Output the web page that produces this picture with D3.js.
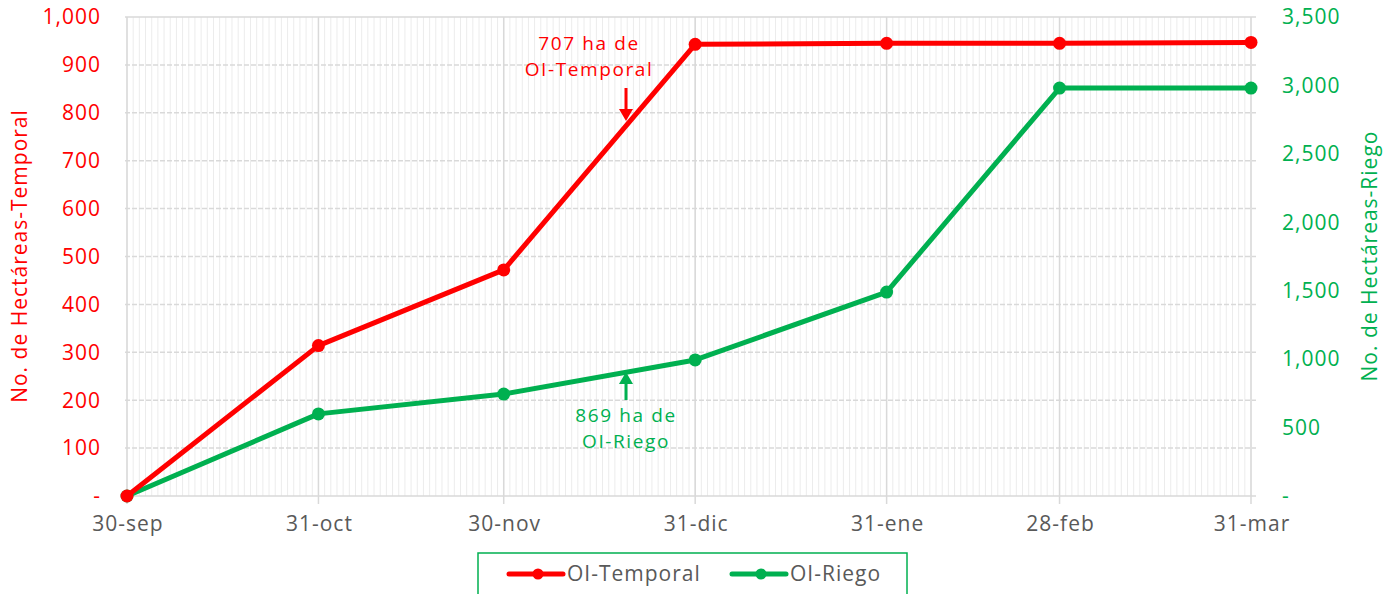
<!DOCTYPE html>
<html><head><meta charset="utf-8">
<script src="https://cdn.jsdelivr.net/npm/d3@7"></script>
<style>body{margin:0;background:#fff;}svg{display:block;font-family:"Open Sans",sans-serif;}text{letter-spacing:1px;}</style>
</head><body>
<svg id="c" width="1387" height="594"></svg>
<script>
const dates = ["2022-09-30","2022-10-31","2022-11-30","2022-12-31","2023-01-31","2023-02-28","2023-03-31"];
const xLabels = ["30-sep","31-oct","30-nov","31-dic","31-ene","28-feb","31-mar"];
const temporal = [0, 314, 472, 943, 945, 945, 947];
const riego = [0, 600, 745, 994, 1490, 2981, 2981];
const leftTicks = [0,100,200,300,400,500,600,700,800,900,1000];
const rightTicks = [0,500,1000,1500,2000,2500,3000,3500];
const noteTemporal = ["707 ha de","OI-Temporal"];
const noteRiego = ["869 ha de","OI-Riego"];

const RED="#ff0000", GREEN="#00b050", GRAY="#595959";
const FS=21;
const svg=d3.select("#c");
const parse=d3.utcParse("%Y-%m-%d");
const dd=dates.map(parse);
const L=127,R=1251,T=17,B=496;
const x=d3.scaleUtc().domain([dd[0],dd[dd.length-1]]).range([L,R]);
const yL=d3.scaleLinear().domain([0,1000]).range([B,T]);
const yR=d3.scaleLinear().domain([0,3500]).range([B,T]);

// daily minor gridlines
const days=d3.utcDay.range(dd[0],d3.utcDay.offset(dd[dd.length-1],1));
svg.append("g").selectAll("line").data(days).join("line")
  .attr("x1",d=>x(d)).attr("x2",d=>x(d)).attr("y1",T).attr("y2",B)
  .attr("stroke","#ececec").attr("stroke-width",1);
// horizontal grid
svg.append("g").selectAll("line").data(leftTicks).join("line")
  .attr("x1",L-2).attr("x2",R+5).attr("y1",d=>yL(d)).attr("y2",d=>yL(d))
  .attr("stroke","#d9d9d9").attr("stroke-width",1.5)
  .attr("stroke-dasharray",d=>d===0||d===1000?null:"5,2");
// major vertical grid
svg.append("g").selectAll("line").data(dd).join("line")
  .attr("x1",d=>x(d)).attr("x2",d=>x(d)).attr("y1",T).attr("y2",B+8)
  .attr("stroke","#d9d9d9").attr("stroke-width",1.5);

// axes labels
svg.append("g").selectAll("text").data(leftTicks).join("text")
  .attr("x",101).attr("y",d=>yL(d)).attr("dy","0.35em").attr("text-anchor","end")
  .attr("fill",RED).attr("font-size",FS).text(d=>d===0?"-":d3.format(",")(d));
svg.append("g").selectAll("text").data(rightTicks).join("text")
  .attr("x",1282).attr("y",d=>yR(d)).attr("dy","0.35em").attr("text-anchor","start")
  .attr("fill",GREEN).attr("font-size",FS).text(d=>d===0?"-":d3.format(",")(d));
svg.append("g").selectAll("text").data(dd).join("text")
  .attr("x",d=>x(d)+1).attr("y",531).attr("text-anchor","middle")
  .attr("fill",GRAY).attr("font-size",FS).text((d,i)=>xLabels[i]);

svg.append("text").attr("transform","translate(27,256) rotate(-90)")
  .attr("text-anchor","middle").attr("fill",RED).attr("font-size",FS).text("No. de Hectáreas-Temporal");
svg.append("text").attr("transform","translate(1377,256) rotate(-90)")
  .attr("text-anchor","middle").attr("fill",GREEN).attr("font-size",FS).text("No. de Hectáreas-Riego");

// lines
function series(vals,y,color){
  const pts=vals.map((v,i)=>[x(dd[i]),y(v)]);
  svg.append("path").attr("d",d3.line()(pts)).attr("fill","none")
    .attr("stroke",color).attr("stroke-width",5).attr("stroke-linejoin","round");
  svg.append("g").selectAll("circle").data(pts).join("circle")
    .attr("cx",d=>d[0]).attr("cy",d=>d[1]).attr("r",6.5).attr("fill",color);
}
series(riego,yR,GREEN);
series(temporal,yL,RED);

// annotations
function arrow(x0,y0,y1,color){
  const dir=Math.sign(y1-y0);
  svg.append("line").attr("x1",x0).attr("x2",x0).attr("y1",y0).attr("y2",y1-dir*10)
    .attr("stroke",color).attr("stroke-width",3);
  svg.append("path").attr("d",`M${x0-7},${y1-dir*12}L${x0+7},${y1-dir*12}L${x0},${y1}Z`).attr("fill",color);
}
svg.append("g").selectAll("text").data(noteTemporal).join("text")
  .attr("x",589).attr("y",(d,i)=>43+i*26).attr("dy","0.35em").attr("text-anchor","middle")
  .attr("fill",RED).attr("font-size",19).style("letter-spacing","1.6px").text(d=>d);
arrow(626,88,121,RED);
svg.append("g").selectAll("text").data(noteRiego).join("text")
  .attr("x",626).attr("y",(d,i)=>415+i*26).attr("dy","0.35em").attr("text-anchor","middle")
  .attr("fill",GREEN).attr("font-size",19).style("letter-spacing","1.6px").text(d=>d);
arrow(626,400,372,GREEN);

// legend
svg.append("rect").attr("x",478).attr("y",553).attr("width",429).attr("height",50)
  .attr("fill","#fff").attr("stroke",GREEN).attr("stroke-width",1.5);
const leg=[{n:"OI-Temporal",c:RED,x:509},{n:"OI-Riego",c:GREEN,x:732}];
leg.forEach(d=>{
  svg.append("line").attr("x1",d.x).attr("x2",d.x+54).attr("y1",574).attr("y2",574)
    .attr("stroke",d.c).attr("stroke-width",5).attr("stroke-linecap","round");
  svg.append("circle").attr("cx",d.x+29).attr("cy",574).attr("r",5.5).attr("fill",d.c);
  svg.append("text").attr("x",d.x+58).attr("y",581).attr("fill",GRAY).attr("font-size",FS).text(d.n);
});
</script>
</body></html>
